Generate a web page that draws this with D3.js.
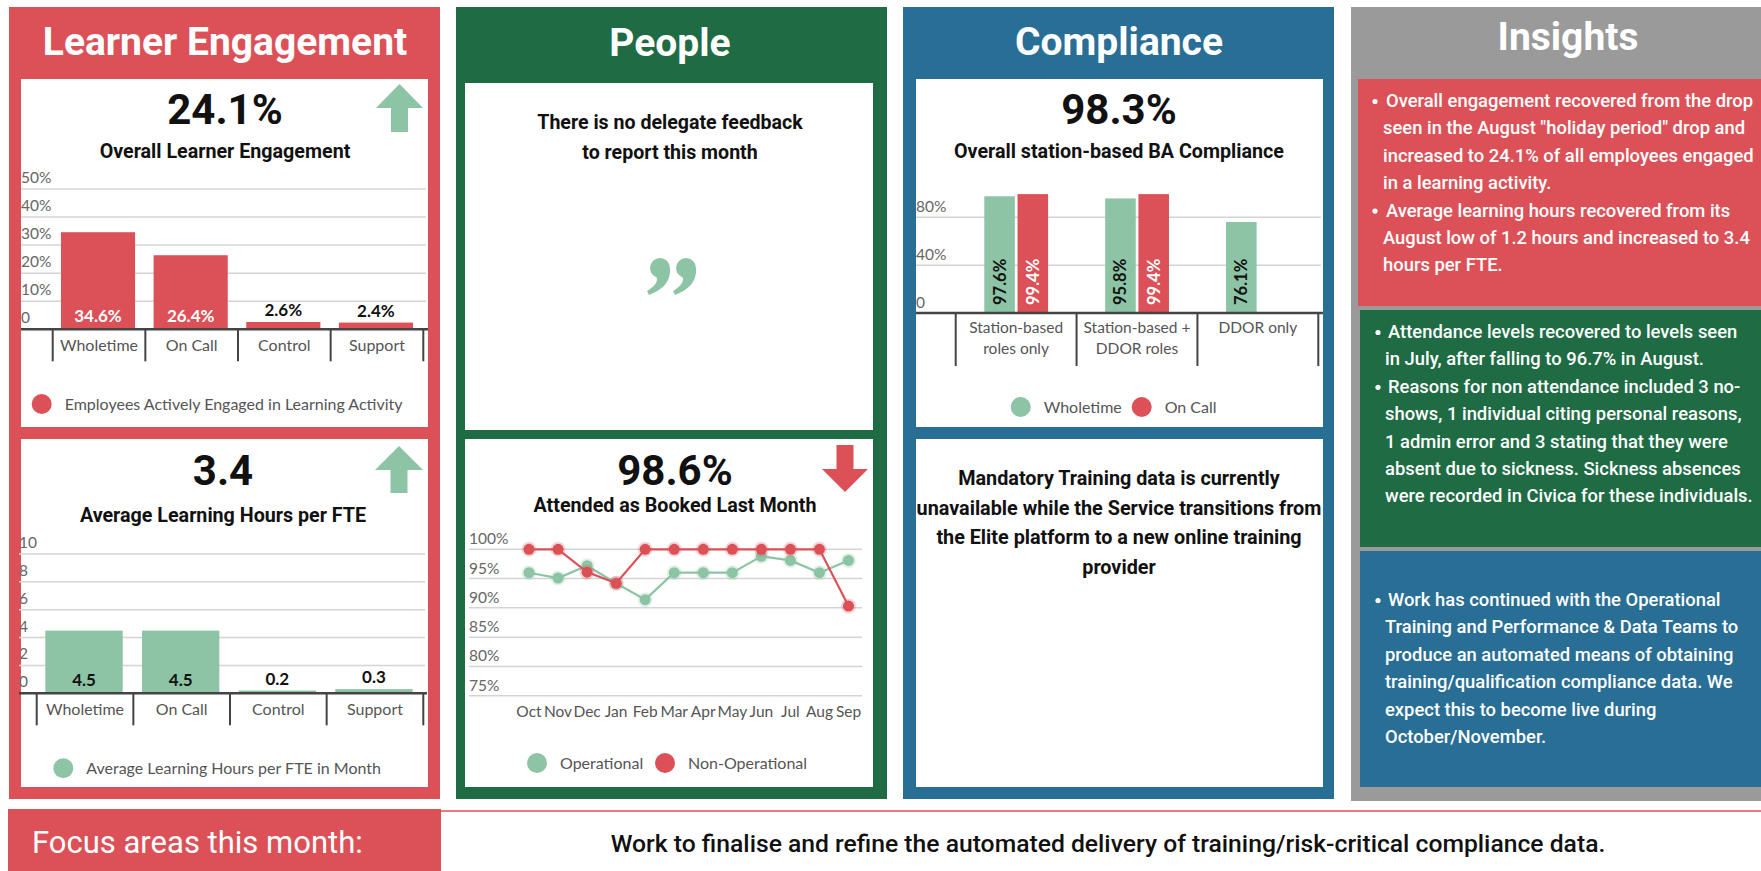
<!DOCTYPE html>
<html>
<head>
<meta charset="utf-8">
<script src="https://cdn.jsdelivr.net/npm/d3@7"></script>
<style>
  body { margin: 0; background: #fff; }
  svg { display: block; }
  .axis-label { font-family: Lato, "Open Sans", sans-serif; fill: #555; }
  .head { font-family: Roboto, sans-serif; font-weight: 700; fill: #fff; }
  .bold { font-family: Roboto, sans-serif; font-weight: 700; fill: #111; }
</style>
</head>
<body>
<div id="dash"></div>
<script>
// ---- data ----
const staffCats = ["Wholetime", "On Call", "Control", "Support"];
const engagementVals = [34.6, 26.4, 2.6, 2.4];
const engagementTicks = [0, 10, 20, 30, 40, 50];
const hoursVals = [4.5, 4.5, 0.2, 0.3];
const hoursTicks = [0, 2, 4, 6, 8, 10];

const months = ["Oct", "Nov", "Dec", "Jan", "Feb", "Mar", "Apr", "May", "Jun", "Jul", "Aug", "Sep"];
const operational = [96.0, 95.1, 97.2, 94.2, 91.4, 96.0, 96.0, 96.0, 98.8, 98.1, 96.0, 98.1];
const nonOperational = [100, 100, 96.1, 94.2, 100, 100, 100, 100, 100, 100, 100, 90.3];
const attendTicks = [75, 80, 85, 90, 95, 100];

const complianceCats = ["Station-based roles only", "Station-based + DDOR roles", "DDOR only"];
const complianceLabels = [["Station-based", "roles only"], ["Station-based +", "DDOR roles"], ["DDOR only"]];
const complianceWholetime = [97.6, 95.8, 76.1];
const complianceOnCall = [99.4, 99.4, null];
const complianceTicks = [0, 40, 80];

const insightsEngagement = [
  ["Overall engagement recovered from the drop", "seen in the August \"holiday period\" drop and",
   "increased to 24.1% of all employees engaged", "in a learning activity."],
  ["Average learning hours recovered from its", "August low of 1.2 hours and increased to 3.4",
   "hours per FTE."]
];
const insightsPeople = [
  ["Attendance levels recovered to levels seen", "in July, after falling to 96.7% in August."],
  ["Reasons for non attendance included 3 no-", "shows, 1 individual citing personal reasons,",
   "1 admin error and 3 stating that they were", "absent due to sickness. Sickness absences",
   "were recorded in Civica for these individuals."]
];
const insightsCompliance = [
  ["Work has continued with the Operational", "Training and Performance & Data Teams to",
   "produce an automated means of obtaining", "training/qualification compliance data. We",
   "expect this to become live during", "October/November."]
];

// ---- colours ----
const RED = "#dc5157", GREEN = "#1e6b44", BLUE = "#286e95", GREY = "#9a9a9a", MINT = "#8cc4a5";

const svg = d3.select("#dash").append("svg")
  .attr("width", 1761).attr("height", 871);

svg.append("rect").attr("width", 1761).attr("height", 871).attr("fill", "#fff");

function rect(x0, y0, x1, y1, fill) {
  return svg.append("rect").attr("x", x0).attr("y", y0)
    .attr("width", x1 - x0).attr("height", y1 - y0).attr("fill", fill);
}
function text(x, y, str, cls, size, anchor) {
  return svg.append("text").attr("class", cls).attr("x", x).attr("y", y)
    .attr("font-size", size).attr("text-anchor", anchor || "middle").text(str);
}

// ---- panels ----
rect(9, 7, 440, 799, RED);
rect(456, 7, 887, 799, GREEN);
rect(903, 7, 1334, 799, BLUE);
rect(1351, 7, 1761, 801, GREY);

text(225, 55, "Learner Engagement", "head", 39);
text(670, 56, "People", "head", 39);
text(1119, 55, "Compliance", "head", 39);
text(1568, 50, "Insights", "head", 39);

// white cards
[[21, 79, 428, 427], [21, 439, 428, 787], [465, 83, 873, 430], [465, 439, 873, 787],
 [916, 79, 1323, 427], [916, 439, 1323, 787]].forEach(c => rect(c[0], c[1], c[2], c[3], "#fff"));

// ---- arrows ----
function upArrow(x0, x1, top, neck, bottom, fill) {
  const cx = (x0 + x1) / 2, sw = 8.5;
  svg.append("path").attr("fill", fill)
    .attr("d", `M${cx},${top}L${x1},${neck}L${cx + sw},${neck}L${cx + sw},${bottom}L${cx - sw},${bottom}L${cx - sw},${neck}L${x0},${neck}Z`);
}
function downArrow(x0, x1, top, neck, tip, fill) {
  const cx = (x0 + x1) / 2, sw = 8.5;
  svg.append("path").attr("fill", fill)
    .attr("d", `M${cx - sw},${top}L${cx + sw},${top}L${cx + sw},${neck}L${x1},${neck}L${cx},${tip}L${x0},${neck}L${cx - sw},${neck}Z`);
}
upArrow(376, 423, 84, 108, 132, MINT);
upArrow(375, 423, 446, 470, 493, MINT);
downArrow(822, 868, 445, 469, 492, RED);

// ---- KPI headings ----
text(225, 124, "24.1%", "bold", 42);
text(225, 158, "Overall Learner Engagement", "bold", 19.7);
text(223, 485, "3.4", "bold", 42);
text(223, 522, "Average Learning Hours per FTE", "bold", 19.7);
text(675, 485, "98.6%", "bold", 42);
text(675, 512, "Attended as Booked Last Month", "bold", 19.7);
text(1119, 124, "98.3%", "bold", 42);
text(1119, 158, "Overall station-based BA Compliance", "bold", 19.7);

text(670, 129, "There is no delegate feedback", "bold", 19.6);
text(670, 159, "to report this month", "bold", 19.6);

// closing-quote mark drawn as two commas
function comma(ox, oy) {
  svg.append("circle").attr("cx", ox).attr("cy", oy).attr("r", 10).attr("fill", MINT);
  svg.append("path").attr("fill", MINT)
    .attr("d", `M${ox + 10},${oy} C${ox + 11},${oy + 14} ${ox + 2},${oy + 22} ${ox - 11},${oy + 27}` +
               ` L${ox - 13},${oy + 23} C${ox - 5},${oy + 18} ${ox - 1},${oy + 13} ${ox - 4},${oy + 8} Z`);
}
comma(660, 268);
comma(686, 268);

["Mandatory Training data is currently", "unavailable while the Service transitions from",
 "the Elite platform to a new online training", "provider"]
  .forEach((l, i) => text(1119, 485 + i * 29.6, l, "bold", 19.8));

// ---- simple bar chart (learner engagement cards) ----
function barChart(cfg) {
  const g = svg.append("g");
  const y = d3.scaleLinear().domain(cfg.domain).range([cfg.y0, cfg.y1]);
  const x = d3.scaleBand().domain(staffCats).range([cfg.xb0, cfg.xb1]);
  const bw = x.bandwidth() * 0.8;

  g.selectAll(".grid").data(cfg.ticks.slice(1)).join("line")
    .attr("x1", cfg.gx0).attr("x2", cfg.gx1)
    .attr("y1", d => y(d)).attr("y2", d => y(d))
    .attr("stroke", "#d4d4d4").attr("stroke-width", 1.5);
  g.selectAll(".tick").data(cfg.ticks).join("text")
    .attr("class", "axis-label").attr("font-size", 15.5).style("fill", "#666")
    .attr("x", cfg.gx0).attr("y", d => y(d) - 6)
    .text(cfg.fmt);

  g.selectAll("rect").data(cfg.values).join("rect")
    .attr("x", (d, i) => x(staffCats[i]) + (x.bandwidth() - bw) / 2 - 1)
    .attr("y", d => y(d)).attr("width", bw).attr("height", d => cfg.y0 - y(d))
    .attr("fill", cfg.color);

  g.selectAll(".val").data(cfg.values).join("text")
    .attr("class", "axis-label").attr("font-size", 17).attr("font-weight", 700)
    .attr("text-anchor", "middle")
    .attr("x", (d, i) => x(staffCats[i]) + x.bandwidth() / 2 - 1)
    .attr("y", d => cfg.y0 - y(d) > 25 ? cfg.y0 - 7 : y(d) - 6)
    .style("fill", d => cfg.y0 - y(d) > 25 ? cfg.insideFill : "#111")
    .text(cfg.valFmt);

  g.append("line").attr("x1", cfg.gx0).attr("x2", cfg.gx1 + 2)
    .attr("y1", cfg.y0).attr("y2", cfg.y0).attr("stroke", "#444").attr("stroke-width", 2.5);
  const seps = staffCats.map(c => x(c)).concat([cfg.xb1]);
  g.selectAll(".sep").data(seps).join("line")
    .attr("x1", d => d).attr("x2", d => d)
    .attr("y1", cfg.y0).attr("y2", cfg.y0 + 32)
    .attr("stroke", "#444").attr("stroke-width", 2);
  g.selectAll(".cat").data(staffCats).join("text")
    .attr("class", "axis-label").attr("font-size", 16).attr("text-anchor", "middle")
    .attr("x", d => x(d) + x.bandwidth() / 2).attr("y", cfg.y0 + 21.5)
    .text(d => d);

  g.append("circle").attr("cx", cfg.legX).attr("cy", cfg.legY).attr("r", 10).attr("fill", cfg.color);
  g.append("text").attr("class", "axis-label").attr("font-size", 16)
    .attr("x", cfg.legX + 23).attr("y", cfg.legY + 5.5).text(cfg.legend);
}

barChart({
  values: engagementVals, ticks: engagementTicks, domain: [0, 50],
  y0: 329.3, y1: 189, gx0: 21, gx1: 426, xb0: 52.7, xb1: 423.3,
  color: RED, insideFill: "#fff", fmt: d => d === 0 ? "0" : d + "%", valFmt: d => d.toFixed(1) + "%",
  legX: 41.7, legY: 404, legend: "Employees Actively Engaged in Learning Activity"
});
barChart({
  values: hoursVals, ticks: hoursTicks, domain: [0, 10],
  y0: 693.3, y1: 554, gx0: 19, gx1: 425, xb0: 36.7, xb1: 423.3,
  color: MINT, insideFill: "#111", fmt: d => String(d), valFmt: d => d.toFixed(1),
  legX: 63.3, legY: 768.3, legend: "Average Learning Hours per FTE in Month"
});

// ---- attendance line chart ----
(function () {
  const g = svg.append("g");
  const y = d3.scaleLinear().domain([75, 100]).range([695.7, 549.3]);
  const x = d3.scalePoint().domain(months).range([529, 848.5]);

  g.selectAll(".grid").data(attendTicks).join("line")
    .attr("x1", 469).attr("x2", 862).attr("y1", d => y(d)).attr("y2", d => y(d))
    .attr("stroke", "#d4d4d4").attr("stroke-width", 1.5);
  g.selectAll(".tick").data(attendTicks).join("text")
    .attr("class", "axis-label").attr("font-size", 15.5).style("fill", "#666")
    .attr("x", 469).attr("y", d => y(d) - 5).text(d => d + "%");
  g.selectAll(".m").data(months).join("text")
    .attr("class", "axis-label").attr("font-size", 15.5).attr("text-anchor", "middle")
    .attr("x", d => x(d)).attr("y", 717).text(d => d);

  const series = [{ vals: operational, color: MINT }, { vals: nonOperational, color: RED }];
  const line = d3.line().x((d, i) => x(months[i])).y(d => y(d));
  series.forEach(s => {
    g.append("path").datum(s.vals).attr("d", line)
      .attr("fill", "none").attr("stroke", s.color).attr("stroke-width", 2.2);
    g.selectAll(null).data(s.vals).join("circle")
      .attr("cx", (d, i) => x(months[i])).attr("cy", d => y(d)).attr("r", 5.5)
      .attr("fill", s.color).attr("stroke", s.color).attr("stroke-opacity", 0.25).attr("stroke-width", 4);
  });

  [[537, MINT, "Operational"], [665, RED, "Non-Operational"]].forEach(l => {
    g.append("circle").attr("cx", l[0]).attr("cy", 763).attr("r", 10).attr("fill", l[1]);
    g.append("text").attr("class", "axis-label").attr("font-size", 16)
      .attr("x", l[0] + 23).attr("y", 769).text(l[2]);
  });
})();

// ---- compliance grouped bars ----
(function () {
  const g = svg.append("g");
  const y = d3.scaleLinear().domain([0, 100]).range([313, 193.4]);
  const x = d3.scaleBand().domain(complianceCats).range([955.7, 1318.3]);
  const sub = d3.scaleBand().domain(["Wholetime", "On Call"]).range([28.6, 92.4]).paddingInner(0.08);

  g.selectAll(".grid").data(complianceTicks.slice(1)).join("line")
    .attr("x1", 916).attr("x2", 1321).attr("y1", d => y(d)).attr("y2", d => y(d))
    .attr("stroke", "#d4d4d4").attr("stroke-width", 1.5);
  g.selectAll(".tick").data(complianceTicks).join("text")
    .attr("class", "axis-label").attr("font-size", 15.5).style("fill", "#666")
    .attr("x", 916).attr("y", d => y(d) - 5).text(d => d === 0 ? "0" : d + "%");

  const bars = [];
  complianceCats.forEach((c, i) => {
    bars.push({ cat: c, key: "Wholetime", v: complianceWholetime[i], color: MINT, tc: "#111" });
    if (complianceOnCall[i] != null) bars.push({ cat: c, key: "On Call", v: complianceOnCall[i], color: RED, tc: "#fff" });
  });
  g.selectAll("rect").data(bars).join("rect")
    .attr("x", d => x(d.cat) + sub(d.key)).attr("width", sub.bandwidth())
    .attr("y", d => y(d.v)).attr("height", d => 313 - y(d.v)).attr("fill", d => d.color);
  g.selectAll(".val").data(bars).join("text")
    .attr("class", "axis-label").attr("font-size", 16.5).attr("font-weight", 700)
    .attr("transform", d => `translate(${x(d.cat) + sub(d.key) + sub.bandwidth() / 2 + 6},305) rotate(-90)`)
    .style("fill", d => d.tc).text(d => d.v.toFixed(1) + "%");

  g.append("line").attr("x1", 916).attr("x2", 1323).attr("y1", 313).attr("y2", 313)
    .attr("stroke", "#444").attr("stroke-width", 2.5);
  g.selectAll(".sep").data(complianceCats.map(c => x(c)).concat([1318.3])).join("line")
    .attr("x1", d => d).attr("x2", d => d).attr("y1", 313).attr("y2", 366)
    .attr("stroke", "#444").attr("stroke-width", 2);
  complianceCats.forEach((c, i) => {
    complianceLabels[i].forEach((l, j) => {
      g.append("text").attr("class", "axis-label").attr("font-size", 15.5).attr("text-anchor", "middle")
        .attr("x", x(c) + x.bandwidth() / 2).attr("y", 333 + j * 21).text(l);
    });
  });

  [[1020.7, MINT, "Wholetime"], [1141.7, RED, "On Call"]].forEach(l => {
    g.append("circle").attr("cx", l[0]).attr("cy", 407).attr("r", 10).attr("fill", l[1]);
    g.append("text").attr("class", "axis-label").attr("font-size", 16)
      .attr("x", l[0] + 23).attr("y", 413).text(l[2]);
  });
})();

// ---- insights ----
function insightBox(x0, y0, y1, fill, bullets, firstBase, bulletX, textX) {
  rect(x0, y0, 1761, y1, fill);
  let line = 0;
  bullets.forEach(b => {
    b.forEach((l, j) => {
      const yy = firstBase + line * 27.4;
      if (j === 0) {
        svg.append("circle").attr("cx", bulletX).attr("cy", yy - 5.5).attr("r", 2.6).attr("fill", "#fff");
      }
      svg.append("text").attr("x", j === 0 ? textX + 3 : textX).attr("y", yy)
        .attr("font-family", "Roboto, sans-serif").attr("font-weight", 500)
        .attr("font-size", 18.4).attr("fill", "#fff").text(l);
      line++;
    });
  });
}
insightBox(1358, 79, 306, RED, insightsEngagement, 107, 1375, 1383);
insightBox(1360, 310, 547, GREEN, insightsPeople, 338, 1378, 1385);
insightBox(1360, 551, 787, BLUE, insightsCompliance, 606, 1378, 1385);

// ---- focus bar ----
svg.append("line").attr("x1", 441).attr("x2", 1761).attr("y1", 811).attr("y2", 811)
  .attr("stroke", RED).attr("stroke-width", 1.5);
rect(8, 809, 441, 871, RED);
svg.append("text").attr("x", 32).attr("y", 853)
  .attr("font-family", "Roboto, sans-serif").attr("font-size", 31).attr("fill", "#fff")
  .text("Focus areas this month:");
svg.append("text").attr("x", 1108).attr("y", 852).attr("text-anchor", "middle")
  .attr("font-family", "Roboto, sans-serif").attr("font-weight", 500).attr("font-size", 24.7).attr("fill", "#111")
  .text("Work to finalise and refine the automated delivery of training/risk-critical compliance data.");
</script>
</body>
</html>
